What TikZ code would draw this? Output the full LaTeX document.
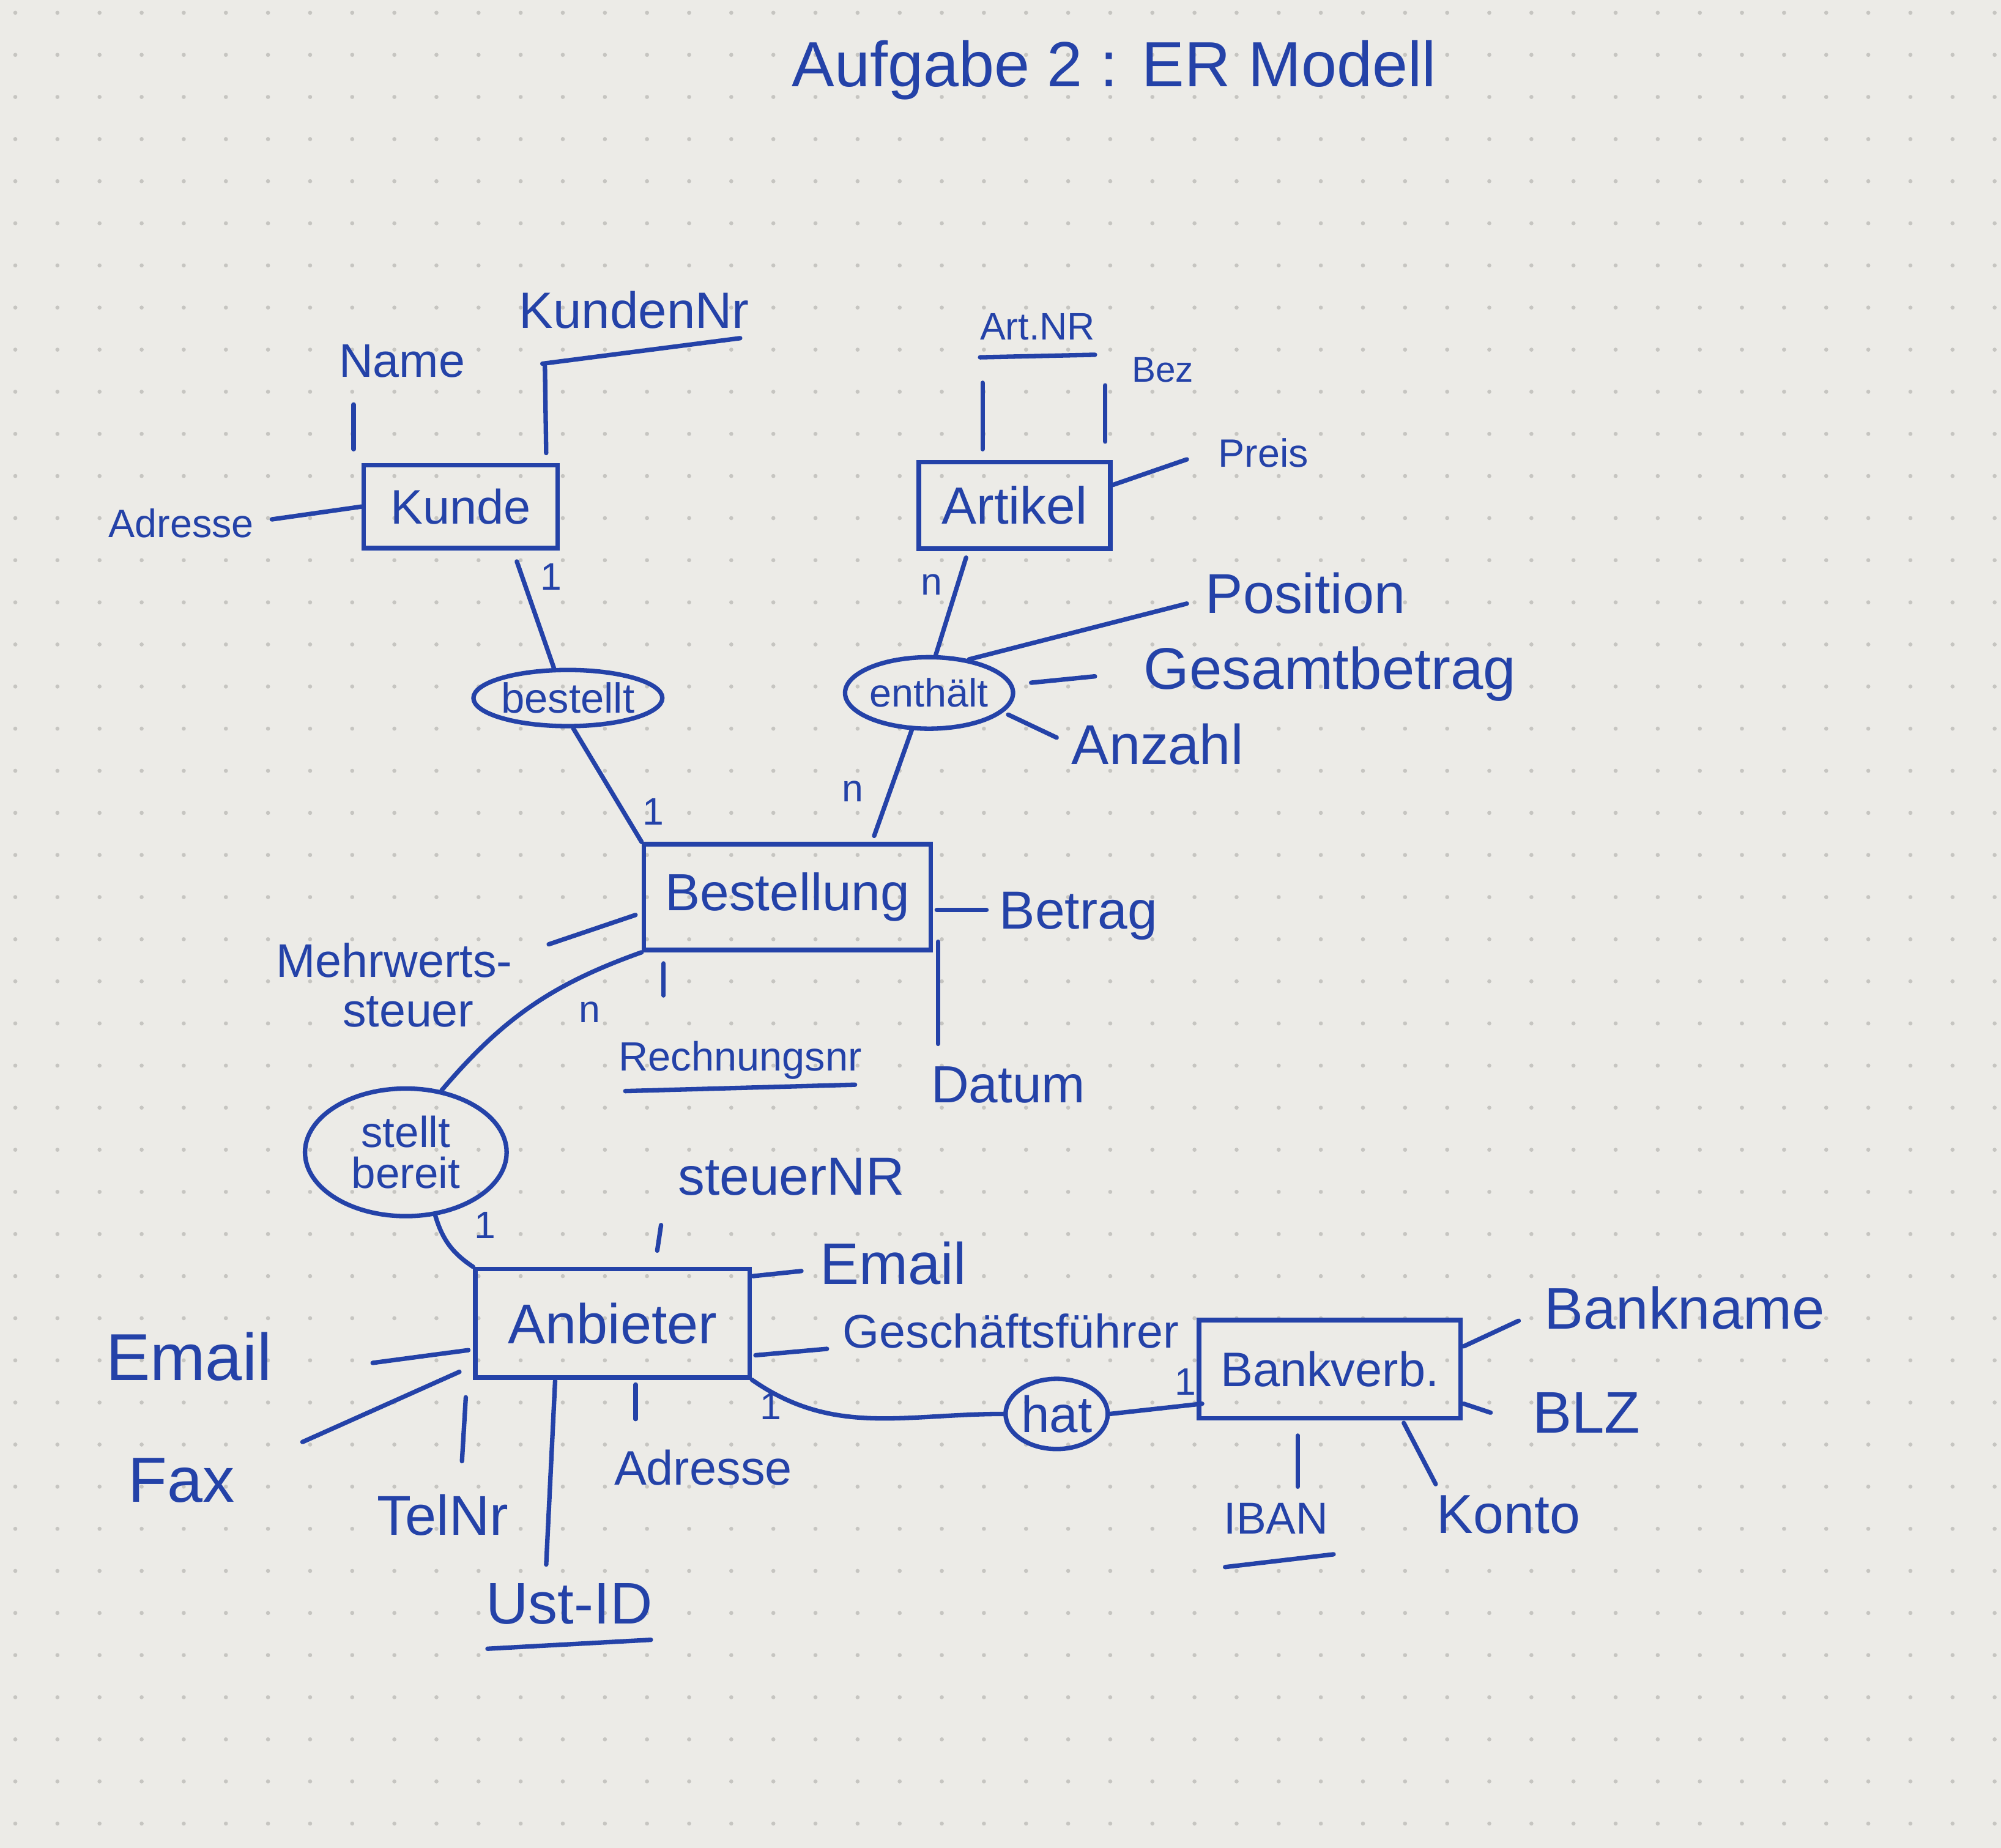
\documentclass[tikz,border=0pt]{standalone}
\usepackage{fontspec}
\setmainfont{Liberation Sans}
\usetikzlibrary{shapes.geometric,calc}
\definecolor{ink}{RGB}{36,66,168}
\definecolor{paper}{RGB}{236,235,231}
\definecolor{dotc}{RGB}{198,197,193}
\tikzset{
  fs/.style={font=\fontsize{#1}{#1}\selectfont},
  ent/.style={draw=ink, line width=3.5pt, rectangle, inner sep=0pt, text=ink},
  rel/.style={draw=ink, line width=3.5pt, ellipse, inner sep=0pt, text=ink},
  attr/.style={text=ink, inner sep=2pt, fs=40},
  card/.style={text=ink, inner sep=1pt, fs=30},
  conn/.style={draw=ink, line width=3.5pt, line cap=round},
}
\begin{document}
\begin{tikzpicture}[x=1pt,y=-1pt]
\fill[paper] (0,0) rectangle (1568,1448);
\useasboundingbox (0,0) rectangle (1568,1448);
\foreach \i in {0,...,47}{\foreach \j in {0,...,44}{\fill[dotc] (12+33*\i,10+33*\j) circle (1.6);}}

% title
\node[attr, fs=50] (title) at (873,55) {Aufgabe 2 : ER Modell};

% entities
\node[ent, fs=38, minimum width=152, minimum height=65] (kunde) at (361,397) {Kunde};
\node[ent, fs=41, minimum width=150, minimum height=68] (artikel) at (795,396) {Artikel};
\node[ent, fs=41, minimum width=225, minimum height=83] (bestellung) at (617,703) {Bestellung};
\node[ent, fs=44, minimum width=215, minimum height=85] (anbieter) at (480,1037) {Anbieter};
\node[ent, fs=38, minimum width=205, minimum height=77] (bank) at (1042,1073) {Bankverb.};

% relationships
\node[rel, fs=33, minimum width=148, minimum height=44] (bestellt) at (445,547) {bestellt};
\node[rel, fs=31, minimum width=130, minimum height=56] (enthaelt) at (728,543) {enthält};
\node[rel, font=\fontsize{34}{32}\selectfont, align=center, minimum width=158, minimum height=100] (stellt) at (318,903) {stellt\\bereit};
\node[rel, fs=40, minimum width=80, minimum height=55] (hat) at (828,1108) {hat};

% attributes
\node[attr, fs=37] (name) at (315,283) {Name};
\node[attr, fs=40] (kdnr) at (497,243) {KundenNr};
\node[attr, fs=31] (kadr) at (142,410) {Adresse};
\node[attr, fs=30] (artnr) at (813,256) {Art.NR};
\node[attr, fs=28] (bez) at (911,290) {Bez};
\node[attr, fs=31] (preis) at (990,355) {Preis};
\node[attr, fs=44] (position) at (1023,465) {Position};
\node[attr, fs=46] (gesamt) at (1042,528) {Gesamtbetrag};
\node[attr, fs=44] (anzahl) at (907,583) {Anzahl};
\node[attr, fs=42] (betrag) at (845,718) {Betrag};
\node[attr, font=\fontsize{37}{39}\selectfont, align=left] (mwst) at (309,772) {Mehrwerts-\\\hspace*{52pt}steuer};
\node[attr, fs=32] (rechnr) at (580,831) {Rechnungsnr};
\node[attr, fs=41] (datum) at (790,850) {Datum};
\node[attr, fs=42] (steuernr) at (620,922) {steuerNR};
\node[attr, fs=46] (email1) at (700,990) {Email};
\node[attr, fs=37] (gf) at (792,1043) {Geschäftsführer};
\node[attr, fs=52] (email2) at (148,1063) {Email};
\node[attr, fs=50] (fax) at (142,1160) {Fax};
\node[attr, fs=44] (tel) at (347,1187) {TelNr};
\node[attr, fs=38] (aadr) at (551,1150) {Adresse};
\node[attr, fs=46] (ust) at (446,1257) {Ust-ID};
\node[attr, fs=46] (bankname) at (1320,1025) {Bankname};
\node[attr, fs=46] (blz) at (1243,1107) {BLZ};
\node[attr, fs=35] (iban) at (1000,1190) {IBAN};
\node[attr, fs=43] (konto) at (1182,1187) {Konto};

% cardinalities
\node[card] (c1) at (432,452) {1};
\node[card] (c2) at (512,636) {1};
\node[card] (c3) at (730,458) {n};
\node[card] (c4) at (668,620) {n};
\node[card] (c5) at (462,793) {n};
\node[card] (c6) at (380,960) {1};
\node[card] (c7) at (604,1102) {1};
\node[card] (c8) at (929,1083) {1};

% Kunde
\draw[conn] ($(name)+(-38,34)$) -- ($(kunde)+(-84,-45)$);
\draw[conn] ($(kdnr)+(-72,42)$) -- ($(kdnr)+(83,22)$);
\draw[conn] ($(kdnr)+(-70,44)$) -- ($(kunde)+(67,-42)$);
\draw[conn] ($(kadr)+(71,-3)$) -- (kunde.west);
\draw[conn] ($(kunde)+(44,43)$) -- (bestellt.115);
\draw[conn] (bestellt.-80) -- (bestellung.north west);

% Artikel
\draw[conn] ($(artnr)+(-45,24)$) -- ($(artnr)+(45,22)$);
\draw[conn] ($(artnr)+(-43,44)$) -- ($(artikel)+(-25,-44)$);
\draw[conn] ($(bez)+(-45,12)$) -- ($(artikel)+(71,-50)$);
\draw[conn] ($(preis)+(-60,5)$) -- ($(artikel)+(77,-16)$);
\draw[conn] ($(artikel)+(-38,41)$) -- (enthaelt.80);
\draw[conn] (enthaelt.-115) -- ($(bestellung)+(68,-48)$);

% enthaelt attributes
\draw[conn] (enthaelt.40) -- ($(position)+(-93,8)$);
\draw[conn] ($(enthaelt)+(80,-8)$) -- ($(gesamt)+(-184,2)$);
\draw[conn] ($(enthaelt)+(62,17)$) -- ($(anzahl)+(-79,-5)$);

% Bestellung
\draw[conn] ($(bestellung)+(117,10)$) -- ($(betrag)+(-72,-5)$);
\draw[conn] ($(bestellung)+(-119,14)$) -- ($(mwst)+(121,-32)$);
\draw[conn] ($(bestellung)+(-97,52)$) -- ($(rechnr)+(-60,-51)$);
\draw[conn] ($(rechnr)+(-90,24)$) -- ($(rechnr)+(90,19)$);
\draw[conn] ($(bestellung)+(118,35)$) -- ($(datum)+(-55,-32)$);
\draw[conn] (bestellung.south west) to[bend right=15] (stellt.60);
\draw[conn] (stellt.-65) to[bend right=20] (anbieter.north west);

% Anbieter
\draw[conn] ($(steuernr)+(-102,38)$) -- ($(anbieter)+(35,-57)$);
\draw[conn] ($(anbieter)+(110,-37)$) -- ($(email1)+(-72,6)$);
\draw[conn] ($(anbieter)+(112,25)$) -- ($(gf)+(-144,14)$);
\draw[conn] ($(email2)+(144,5)$) -- ($(anbieter)+(-113,21)$);
\draw[conn] ($(fax)+(95,-30)$) -- ($(anbieter)+(-120,38)$);
\draw[conn] ($(anbieter)+(-115,58)$) -- ($(tel)+(15,-42)$);
\draw[conn] ($(anbieter)+(-45,45)$) -- ($(ust)+(-18,-31)$);
\draw[conn] ($(ust)+(-64,35)$) -- ($(ust)+(64,28)$);
\draw[conn] ($(anbieter)+(18,48)$) -- ($(aadr)+(-53,-38)$);
\draw[conn] (anbieter.south east) to[out=-35,in=180] (hat.west);
\draw[conn] (hat.east) -- ($(bank)+(-100,27)$);

% Bankverbindung
\draw[conn] ($(bank)+(105,-18)$) -- ($(bankname)+(-130,10)$);
\draw[conn] ($(bank)+(105,27)$) -- ($(blz)+(-75,0)$);
\draw[conn] ($(bank)+(-25,52)$) -- ($(iban)+(17,-25)$);
\draw[conn] ($(iban)+(-40,38)$) -- ($(iban)+(45,28)$);
\draw[conn] ($(bank)+(58,42)$) -- ($(konto)+(-57,-24)$);
\end{tikzpicture}
\end{document}
